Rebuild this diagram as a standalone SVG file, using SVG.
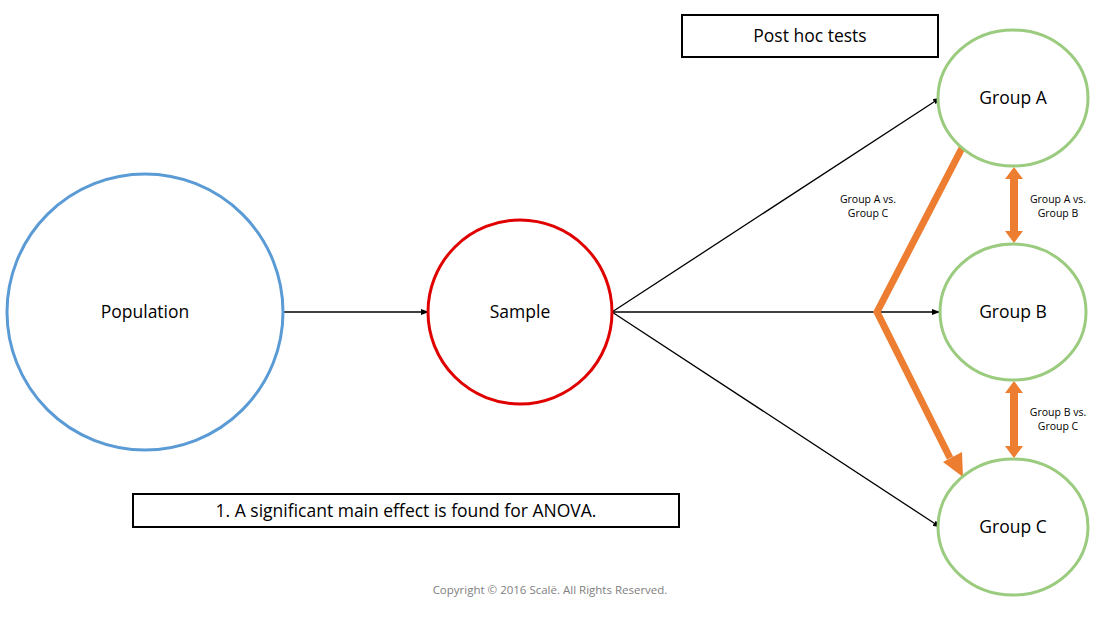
<svg xmlns="http://www.w3.org/2000/svg" width="1100" height="618" viewBox="0 0 1100 618">
<style>
text{font-family:"Open Sans","DejaVu Sans",sans-serif;text-anchor:middle;fill:#000}
.lbl{font-size:17.5px}
.sm{font-size:10.5px}
.g{fill:#fff;stroke:#9bcb7e;stroke-width:3}
.blk{stroke:#000;stroke-width:1.3;fill:none}
.box{fill:#fff;stroke:#000;stroke-width:2}
</style>
<defs>
<marker id="ah" markerWidth="8" markerHeight="8" refX="7" refY="4" orient="auto" markerUnits="userSpaceOnUse"><path d="M0,1 L8,4 L0,7 z" fill="#000"/></marker>
</defs>
<rect width="1100" height="618" fill="#fff"/>
<g id="connectors">
<line class="blk" x1="283" y1="312" x2="428" y2="312" marker-end="url(#ah)"/>
<line class="blk" x1="612" y1="312" x2="940" y2="98" marker-end="url(#ah)"/>
<line class="blk" x1="612" y1="312" x2="939" y2="312" marker-end="url(#ah)"/>
<line class="blk" x1="612" y1="312" x2="940" y2="527" marker-end="url(#ah)"/>
<polyline points="962,148 877,312 950,458" fill="none" stroke="#ed7d31" stroke-width="7" stroke-linejoin="miter"/>
<polygon points="943,462 962,452 963,477" fill="#ed7d31"/>
<polygon points="1014,167 1023,179 1018,179 1018,231 1023,231 1014,243 1005,231 1010,231 1010,179 1005,179" fill="#ed7d31"/>
<polygon points="1014,381 1023,393 1018,393 1018,446 1023,446 1014,458 1005,446 1010,446 1010,393 1005,393" fill="#ed7d31"/>
<text class="sm" x="868" y="203">Group A vs.</text>
<text class="sm" x="868" y="217">Group C</text>
<text class="sm" x="1058" y="203">Group A vs.</text>
<text class="sm" x="1058" y="217">Group B</text>
<text class="sm" x="1058" y="416">Group B vs.</text>
<text class="sm" x="1058" y="430">Group C</text>
</g>
<g id="population"><circle cx="145" cy="312" r="138" fill="#fff" stroke="#5b9bd5" stroke-width="3"/><text class="lbl" x="145" y="318">Population</text></g>
<g id="sample"><circle cx="520" cy="312" r="92" fill="#fff" stroke="#e00000" stroke-width="3"/><text class="lbl" x="520" y="318">Sample</text></g>
<g id="groupA"><ellipse class="g" cx="1013" cy="98" rx="75" ry="68"/><text class="lbl" x="1013" y="104">Group A</text></g>
<g id="groupB"><ellipse class="g" cx="1013" cy="312" rx="73" ry="68"/><text class="lbl" x="1013" y="318">Group B</text></g>
<g id="groupC"><ellipse class="g" cx="1013" cy="527" rx="75" ry="68"/><text class="lbl" x="1013" y="533">Group C</text></g>
<g id="posthoc"><rect class="box" x="682" y="15" width="256" height="42"/><text class="lbl" x="810" y="42">Post hoc tests</text></g>
<g id="anova"><rect class="box" x="133" y="494" width="546" height="33" stroke-width="1.5"/><text class="lbl" x="406" y="517">1. A significant main effect is found for ANOVA.</text></g>
<text x="550" y="594" font-size="11.5" style="fill:#808080">Copyright © 2016 Scalë. All Rights Reserved.</text>
</svg>
